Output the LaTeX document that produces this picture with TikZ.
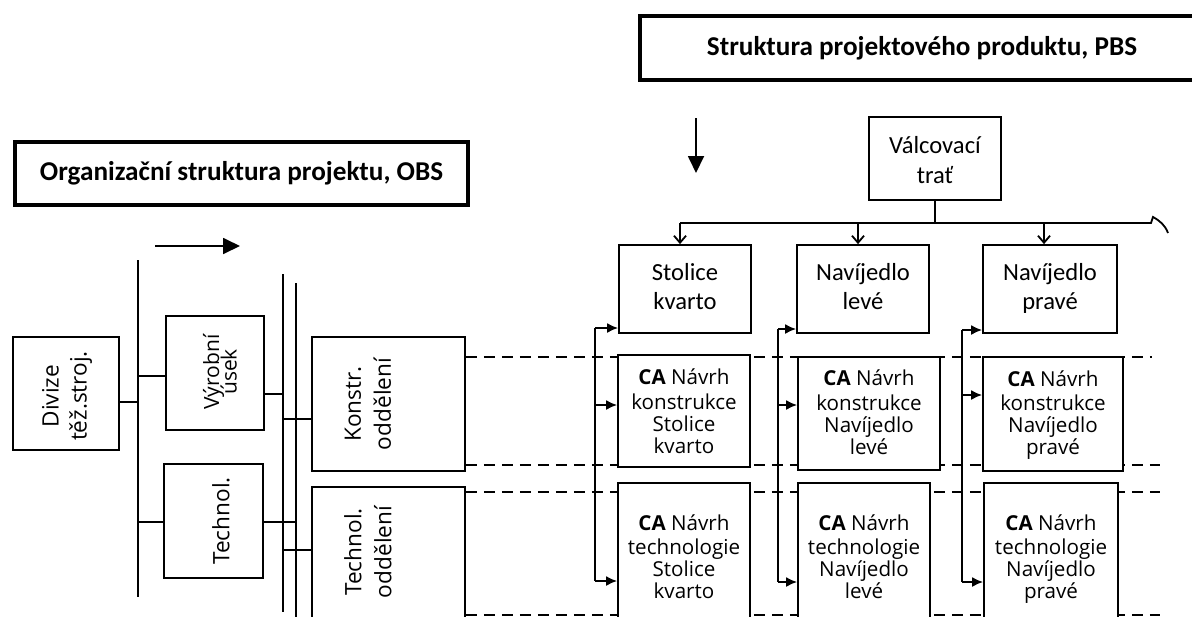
\documentclass[tikz,border=0pt]{standalone}
\usepackage{fontspec}
\setmainfont{Open Sans}
\newfontfamily\carlito{Carlito}
\usetikzlibrary{arrows.meta,calc}

\begin{document}
\begin{tikzpicture}[x=0.5pt,y=-0.5pt,
  box/.style={draw, line width=0.9pt, fill=white, inner sep=0pt, align=center},
  label/.style={align=center, inner sep=0pt},
  titlebox/.style={draw, line width=1.8pt, inner sep=0pt,
    font=\carlito\bfseries\fontsize{13.6}{16}\selectfont},
  wire/.style={line width=0.9pt},
  dashline/.style={line width=0.9pt, dash pattern=on 5.5pt off 3.5pt},
  feed/.style={line width=0.9pt, -{Latex[length=5.5pt,width=5pt]}},
  drop/.style={line width=0.9pt, -{Straight Barb[length=3.5pt,width=6pt]}},
  bigarrow/.style={line width=0.9pt, -{Triangle[length=8.5pt,width=8pt]}},
  pbsfont/.style={font=\carlito\fontsize{12.3}{14.5}\selectfont},
  cafont/.style={font=\fontsize{10.3}{11.1}\selectfont},
  rottext/.style={rotate=90, align=center, inner sep=0pt},
]
\useasboundingbox (0,0) rectangle (1192,616);
\clip (0,0) rectangle (1192,616);
\fill[white] (0,0) rectangle (1192,616);

% titles
\node[titlebox, minimum width=282pt, minimum height=32pt] (pbs) at (922,48)
  {Struktura projektového produktu, PBS};
\node[titlebox, minimum width=226.5pt, minimum height=31.5pt] (obs) at (241.5,173.5)
  {Organizační struktura projektu, OBS};

% direction arrows
\coordinate (obsdirA) at (155,246);
\coordinate (obsdirB) at (240,246);
\draw[bigarrow] (obsdirA) -- (obsdirB);
\coordinate (pbsdirA) at (696,118);
\coordinate (pbsdirB) at (696,173);
\draw[bigarrow] (pbsdirA) -- (pbsdirB);

% dashed row separators
\coordinate (dashE1) at (1152,357);
\coordinate (dashE2) at (1160,465);
\coordinate (dashE3) at (1160,492);
\coordinate (dashE4) at (1160,615);

% ---------- OBS (left) ----------
\node[box, minimum width=53pt, minimum height=56.5pt] (div) at (66,393.5) {};
\node[box, minimum width=49pt, minimum height=57pt] (vyr) at (215,373) {};
\node[box, minimum width=49.5pt, minimum height=57pt] (tech) at (213.5,521) {};
\node[box, minimum width=76.5pt, minimum height=67pt] (konstr) at (388.5,404) {};
\node[box, minimum width=76.5pt, minimum height=76.5pt] (techodd) at (388.5,563.5) {};

\node[rottext, font=\fontsize{11.3}{14}\selectfont] (divt) at (67,396) {Divize\\těž.stroj.};
\node[rottext, font={\fontsize{10.5}{8.8}\selectfont\lineskiplimit=-100pt}] (vyrt) at (220,372) {Výrobní\\úsek};
\node[rottext, font=\fontsize{11.3}{14}\selectfont] (techt) at (221,521) {Technol.};
\node[rottext, font=\fontsize{11.3}{15}\selectfont] (konstrt) at (368,404) {Konstr.\\oddělení};
\node[rottext, font=\fontsize{11.3}{15}\selectfont] (techoddt) at (368,552) {Technol.\\oddělení};

\coordinate (busL) at (138,260);
\coordinate (busLend) at (138,597);
\coordinate (busA) at (283,274);
\coordinate (busAend) at (283,612);
\coordinate (busB) at (296,283);
\coordinate (busBend) at (296,630);
\draw[wire] (busL) -- (busLend);
\draw[wire] (busA) -- (busAend);
\draw[wire] (busB) -- (busBend);

\draw[wire] (div.east |- 0,402) -- (busL |- 0,402);
\draw[wire] (busL |- 0,376) -- (vyr.west |- 0,376);
\draw[wire] (busL |- 0,522) -- (tech.west |- 0,522);
\draw[wire] (vyr.east |- 0,394) -- (busA |- 0,394);
\draw[wire] (tech.east |- 0,522) -- (busB |- 0,522);
\draw[wire] (busA |- 0,419) -- (konstr.west |- 0,419);
\draw[wire] (busA |- 0,550) -- (techodd.west |- 0,550);

\draw[dashline] (konstr.east |- dashE1) -- (dashE1);
\draw[dashline] (konstr.east |- dashE2) -- (dashE2);
\draw[dashline] (konstr.east |- dashE3) -- (dashE3);
\draw[dashline] (konstr.east |- dashE4) -- (dashE4);

% ---------- PBS (right) ----------
\node[box, minimum width=66pt, minimum height=41.5pt] (valc) at (935,158.5) {};
\node[label, font=\carlito\fontsize{12.3}{15}\selectfont] (valct) at (935,162.5) {\strut Válcovací\\trať\strut};

\node[box, pbsfont, minimum width=66pt, minimum height=44pt] (r1a) at (685,289) {\strut Stolice\\kvarto\strut};
\node[box, pbsfont, minimum width=66pt, minimum height=44pt] (r1b) at (863,289) {\strut Navíjedlo\\levé\strut};
\node[box, pbsfont, minimum width=67pt, minimum height=44pt] (r1c) at (1050,289) {\strut Navíjedlo\\pravé\strut};

\node[box, minimum width=66pt, minimum height=56pt] (r2a) at (684,411) {};
\node[box, minimum width=71pt, minimum height=56.5pt] (r2b) at (869,413.5) {};
\node[box, minimum width=70pt, minimum height=57pt] (r2c) at (1053,414) {};
\node[label, cafont] (r2at) at (684,414.5) {\strut\textbf{CA} Návrh\\konstrukce\\Stolice\\kvarto\strut};
\node[label, cafont] (r2bt) at (869,415.5) {\strut\textbf{CA} Návrh\\konstrukce\\Navíjedlo\\levé\strut};
\node[label, cafont] (r2ct) at (1053,416) {\strut\textbf{CA} Návrh\\konstrukce\\Navíjedlo\\pravé\strut};

\node[box, minimum width=66pt, minimum height=78.5pt] (r3a) at (684,561.5) {};
\node[box, minimum width=66pt, minimum height=78.5pt] (r3b) at (864,561.5) {};
\node[box, minimum width=67pt, minimum height=78.5pt] (r3c) at (1051,561.5) {};
\node[label, cafont] (r3at) at (684,560) {\strut\textbf{CA} Návrh\\technologie\\Stolice\\kvarto\strut};
\node[label, cafont] (r3bt) at (864,560) {\strut\textbf{CA} Návrh\\technologie\\Navíjedlo\\levé\strut};
\node[label, cafont] (r3ct) at (1051,560) {\strut\textbf{CA} Návrh\\technologie\\Navíjedlo\\pravé\strut};

% tree from the top item
\coordinate (tapA) at (680,223);
\coordinate (tapB) at (858,223);
\coordinate (tapC) at (1044,223);
\coordinate (treeEnd) at (1151,223);
\draw[wire] (valc.south) -- (valc.south |- tapA);
\draw[wire] (tapA) -- (treeEnd) -- (1153,217) .. controls (1160,221) and (1165,225) .. (1168,233);
\draw[drop] (tapA) -- (tapA |- r1a.north);
\draw[drop] (tapB) -- (tapB |- r1b.north);
\draw[drop] (tapC) -- (tapC |- r1c.north);

% feeds into each column
\coordinate (brA) at (595,328);
\coordinate (brAend) at (595,581);
\coordinate (brB) at (778,329);
\coordinate (brBend) at (778,582);
\coordinate (brC) at (962,330);
\coordinate (brCend) at (962,582);
\draw[wire] (brA) -- (brAend);
\draw[wire] (brB) -- (brBend);
\draw[wire] (brC) -- (brCend);

\draw[feed] (brA) -- (r1a.west |- brA);
\draw[feed] (brA |- 0,405) -- (r2a.west |- 0,405);
\draw[feed] (brAend) -- (r3a.west |- brAend);
\draw[feed] (brB) -- (r1b.west |- brB);
\draw[feed] (brB |- 0,405) -- (r2b.west |- 0,405);
\draw[feed] (brBend) -- (r3b.west |- brBend);
\draw[feed] (brC) -- (r1c.west |- brC);
\draw[feed] (brC |- 0,395) -- (r2c.west |- 0,395);
\draw[feed] (brCend) -- (r3c.west |- brCend);
\end{tikzpicture}
\end{document}
